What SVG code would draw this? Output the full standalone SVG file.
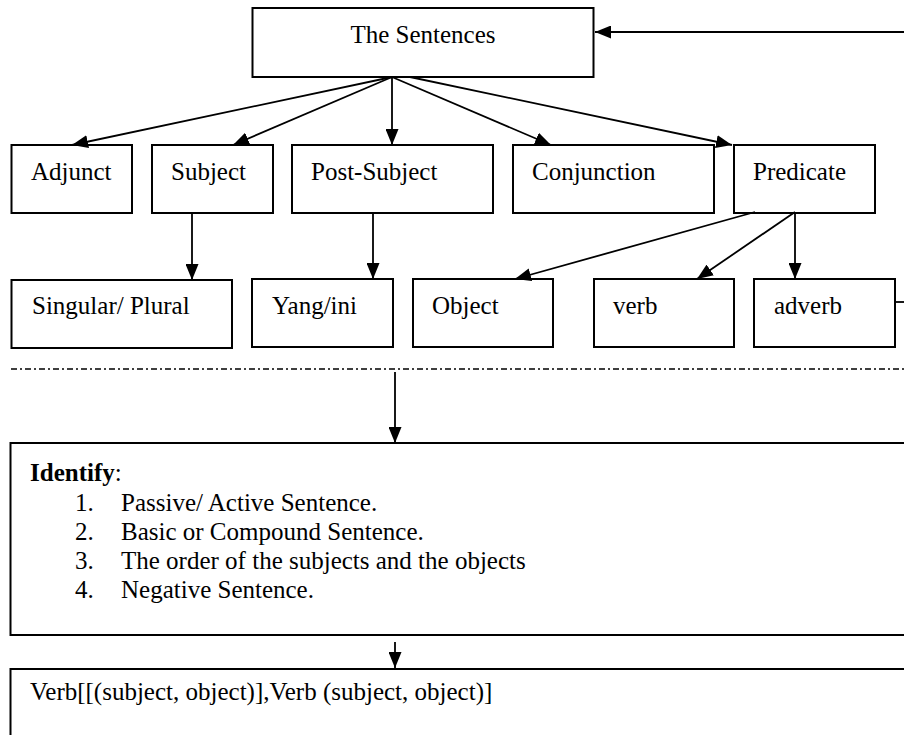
<svg xmlns="http://www.w3.org/2000/svg" width="904" height="735" viewBox="0 0 904 735">
<style>
.box{fill:#fff;stroke:#000;stroke-width:2}
.t{font-family:"Liberation Serif","Times New Roman",serif;font-size:25px;fill:#000}
.b{font-weight:bold}
.c{stroke:#000;stroke-width:1.8;fill:none}
.dash{stroke:#000;stroke-width:1.4;fill:none;stroke-dasharray:6 3 2 3}
</style>
<defs>
<marker id="ah" markerUnits="userSpaceOnUse" markerWidth="16" markerHeight="13" refX="16" refY="6.5" orient="auto">
<path d="M0,0 L16,6.5 L0,13 z" fill="#000"/>
</marker>
</defs>
<rect width="904" height="735" fill="#fff"/>
<g id="n-sentences"><rect class="box" x="252.5" y="8" width="341" height="69"/><text class="t" x="423" y="43" text-anchor="middle">The Sentences</text></g>
<g id="n-adjunct"><rect class="box" x="11.5" y="145" width="120.5" height="68"/><text class="t" x="31" y="180">Adjunct</text></g>
<g id="n-subject"><rect class="box" x="152" y="145" width="121" height="68"/><text class="t" x="171" y="180">Subject</text></g>
<g id="n-postsubject"><rect class="box" x="292" y="145" width="201" height="68"/><text class="t" x="311" y="180">Post-Subject</text></g>
<g id="n-conjunction"><rect class="box" x="513" y="145" width="201" height="68"/><text class="t" x="532" y="180">Conjunction</text></g>
<g id="n-predicate"><rect class="box" x="734" y="145" width="141" height="68"/><text class="t" x="753" y="180">Predicate</text></g>
<g id="n-singular"><rect class="box" x="11.5" y="280" width="220.5" height="68"/><text class="t" x="32" y="314">Singular/ Plural</text></g>
<g id="n-yang"><rect class="box" x="252" y="279" width="141" height="68"/><text class="t" x="272" y="314">Yang/ini</text></g>
<g id="n-object"><rect class="box" x="413" y="279" width="140" height="68"/><text class="t" x="432" y="314">Object</text></g>
<g id="n-verb"><rect class="box" x="594" y="279" width="140" height="68"/><text class="t" x="613" y="314">verb</text></g>
<g id="n-adverb"><rect class="box" x="754" y="279" width="141" height="68"/><text class="t" x="774" y="314">adverb</text></g>
<g id="n-identify"><rect class="box" x="10.5" y="443" width="900" height="192"/>
<text class="t" x="30" y="481"><tspan class="b">Identify</tspan>:</text>
<text class="t" x="75" y="511">1.</text><text class="t" x="121" y="511">Passive/ Active Sentence.</text>
<text class="t" x="75" y="540">2.</text><text class="t" x="121" y="540">Basic or Compound Sentence.</text>
<text class="t" x="75" y="569">3.</text><text class="t" x="121" y="569">The order of the subjects and the objects</text>
<text class="t" x="75" y="598">4.</text><text class="t" x="121" y="598">Negative Sentence.</text>
</g>
<g id="n-result"><rect class="box" x="10.5" y="669" width="900" height="80"/><text class="t" x="30" y="700">Verb[[(subject, object)],Verb (subject, object)]</text></g>
<g id="connectors">
<line class="c" x1="904" y1="32" x2="595" y2="32" marker-end="url(#ah)"/>
<line class="c" x1="392" y1="77" x2="72" y2="145" marker-end="url(#ah)"/>
<line class="c" x1="392" y1="77" x2="233" y2="145" marker-end="url(#ah)"/>
<line class="c" x1="392" y1="77" x2="392" y2="145" marker-end="url(#ah)"/>
<line class="c" x1="392" y1="77" x2="551" y2="145" marker-end="url(#ah)"/>
<line class="c" x1="410" y1="77" x2="732" y2="145" marker-end="url(#ah)"/>
<line class="c" x1="192" y1="213" x2="192" y2="280" marker-end="url(#ah)"/>
<line class="c" x1="373" y1="213" x2="373" y2="279" marker-end="url(#ah)"/>
<line class="c" x1="755" y1="212" x2="515" y2="279" marker-end="url(#ah)"/>
<line class="c" x1="795" y1="212" x2="697" y2="279" marker-end="url(#ah)"/>
<line class="c" x1="795" y1="212" x2="795" y2="279" marker-end="url(#ah)"/>
<line class="c" x1="895" y1="302" x2="904" y2="302"/>
<line class="dash" x1="11" y1="369" x2="904" y2="369"/>
<line class="c" x1="395" y1="372" x2="395" y2="443" marker-end="url(#ah)"/>
<line class="c" x1="395" y1="642" x2="395" y2="668" marker-end="url(#ah)"/>
</g>
</svg>
